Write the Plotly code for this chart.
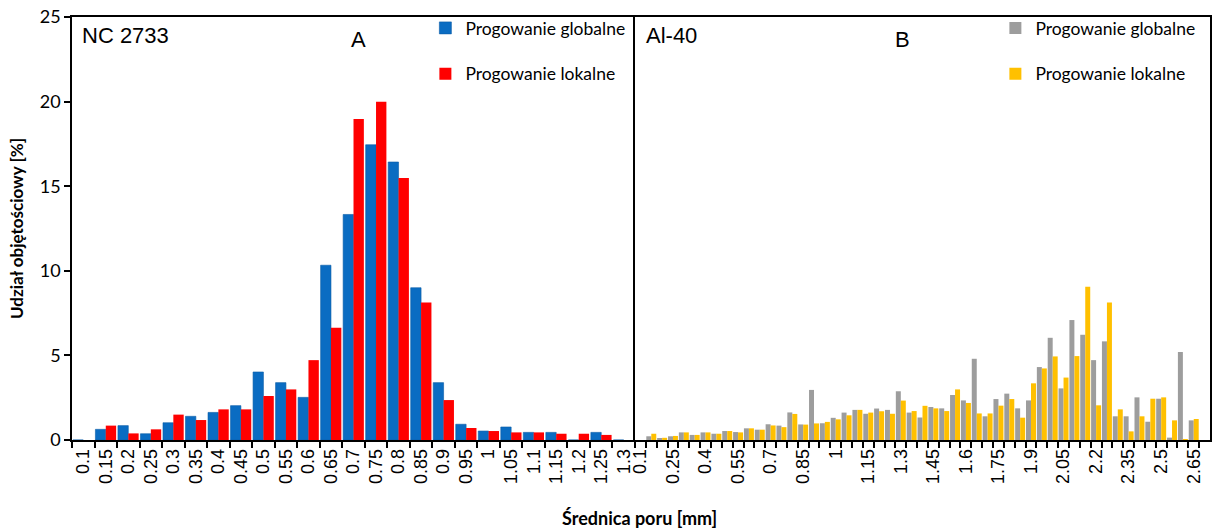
import plotly.graph_objects as go

# Pore diameter classes [mm]
diam_a = ["0.1", "0.15", "0.2", "0.25", "0.3", "0.35", "0.4", "0.45", "0.5", "0.55",
          "0.6", "0.65", "0.7", "0.75", "0.8", "0.85", "0.9", "0.95", "1", "1.05",
          "1.1", "1.15", "1.2", "1.25", "1.3"]
diam_b = ["0.1", "0.15", "0.2", "0.25", "0.3", "0.35", "0.4", "0.45", "0.5", "0.55",
          "0.6", "0.65", "0.7", "0.75", "0.8", "0.85", "0.9", "0.95", "1", "1.05",
          "1.1", "1.15", "1.2", "1.25", "1.3", "1.35", "1.4", "1.45", "1.5", "1.55",
          "1.6", "1.65", "1.7", "1.75", "1.8", "1.85", "1.9", "1.95", "2", "2.05",
          "2.1", "2.15", "2.2", "2.25", "2.3", "2.35", "2.4", "2.45", "2.5", "2.55",
          "2.6", "2.65", "2.7"]

# NC 2733 - volume fraction [%]
nc_global = [0, 0.63, 0.85, 0.37, 1.02, 1.40, 1.63, 2.03, 4.02, 3.39,
             2.52, 10.33, 13.33, 17.45, 16.43, 9.0, 3.39, 0.93, 0.53, 0.77,
             0.45, 0.45, 0, 0.45, 0]
nc_local = [0, 0.85, 0.39, 0.63, 1.50, 1.18, 1.81, 1.81, 2.60, 2.99,
            4.72, 6.63, 18.97, 19.99, 15.48, 8.13, 2.36, 0.71, 0.53, 0.45,
            0.45, 0.37, 0.37, 0.30, 0]

# Al-40 - volume fraction [%]
al_global = [0, 0.22, 0.12, 0.22, 0.45, 0.30, 0.45, 0.37, 0.53, 0.47,
             0.69, 0.61, 0.93, 0.85, 1.63, 0.92, 2.96, 0.99, 1.31, 1.62,
             1.78, 1.55, 1.86, 1.78, 2.88, 1.62, 1.33, 1.95, 1.87, 2.66,
             2.34, 4.80, 1.40, 2.42, 2.74, 1.87, 2.34, 4.31, 6.04, 3.05,
             7.09, 6.22, 4.72, 5.83, 1.40, 1.40, 2.52, 1.08, 2.44, 0.14,
             5.20, 1.16, 0]
al_local = [0, 0.37, 0.13, 0.24, 0.45, 0.30, 0.45, 0.37, 0.53, 0.45,
            0.69, 0.61, 0.86, 0.76, 1.54, 0.91, 0.98, 1.07, 1.22, 1.46,
            1.78, 1.62, 1.70, 1.55, 2.33, 1.71, 2.02, 1.87, 1.71, 2.99,
            2.19, 1.57, 1.57, 2.03, 2.42, 1.32, 3.35, 4.23, 4.94, 3.69,
            4.96, 9.06, 2.05, 8.13, 1.81, 0.51, 1.40, 2.44, 2.52, 1.16,
            0.02, 1.24, 0]

series_names = ["Progowanie globalne", "Progowanie lokalne"]
y_ticks = [0, 5, 10, 15, 20, 25]

# every third class is labelled on the Al-40 axis
b_labels = [d if i % 3 == 0 else "" for i, d in enumerate(diam_b)]

W, H = 1214, 531
ML, MR, MT, MB = 72, 2, 17, 91
split_px = 636
plot_w = W - ML - MR
plot_h = H - MT - MB
split = (split_px - ML) / plot_w

BLUE, RED, GREY, GOLD = "#0A6CC2", "#FF0000", "#9D9D9D", "#FFC000"
TICK_FONT = dict(family="Liberation Sans, Arial", size=18, color="black")
CAL_FONT = "Lato, Carlito, Calibri"


def px_x(px):
    return (px - ML) / plot_w


def px_y(px):
    return (H - MB - px) / plot_h


fig = go.Figure()
fig.add_trace(go.Bar(x=diam_a, y=nc_global, name=series_names[0], marker_color=BLUE,
                     marker_line=dict(color="#0A5CA6", width=0.6),
                     xaxis="x", yaxis="y", legend="legend", legendgroup="a1"))
fig.add_trace(go.Bar(x=diam_a, y=nc_local, name=series_names[1], marker_color=RED,
                     marker_line_width=0,
                     xaxis="x", yaxis="y", legend="legend", legendgroup="a2"))
fig.add_trace(go.Bar(x=diam_b, y=al_global, name=series_names[0], marker_color=GREY,
                     marker_line_width=0,
                     xaxis="x2", yaxis="y2", legend="legend2", legendgroup="b1"))
fig.add_trace(go.Bar(x=diam_b, y=al_local, name=series_names[1], marker_color=GOLD,
                     marker_line_width=0,
                     xaxis="x2", yaxis="y2", legend="legend2", legendgroup="b2"))

line_style = dict(showline=True, linecolor="black", linewidth=1.5,
                  showgrid=False, zeroline=False)

xa_common = dict(type="category", tickson="boundaries", ticks="outside", ticklen=6,
                 tickwidth=1.5, tickcolor="black", tickangle=-90, tickfont=TICK_FONT,
                 tickmode="array", mirror=True, **line_style)

legend_common = dict(font=dict(family=CAL_FONT, size=17.5, color="black"),
                     bgcolor="rgba(0,0,0,0)", tracegroupgap=20, itemwidth=30,
                     xanchor="left", yanchor="top", traceorder="grouped")

label_font = dict(family="Liberation Sans, Arial", size=22, color="black")

fig.update_layout(
    width=W, height=H,
    margin=dict(l=ML, r=MR, t=MT, b=MB),
    paper_bgcolor="white", plot_bgcolor="white",
    barmode="group", bargap=0.08, bargroupgap=0,
    xaxis=dict(domain=[0, split], categoryorder="array", categoryarray=diam_a,
               tickvals=diam_a, ticktext=diam_a,
               range=[-0.5, len(diam_a) - 0.5], anchor="y", **xa_common),
    xaxis2=dict(domain=[split, 1], categoryorder="array", categoryarray=diam_b,
                tickvals=diam_b, ticktext=b_labels,
                range=[-0.5, len(diam_b) - 0.5], anchor="y2", **xa_common),
    yaxis=dict(range=[0, 25], tickvals=y_ticks, ticks="outside", ticklen=6, tickwidth=1.5,
               tickcolor="black", anchor="x", mirror=False,
               tickfont=dict(family=CAL_FONT, size=18, color="black"),
               title=dict(text="<b>Udział objętościowy [%]</b>", standoff=12,
                          font=dict(family=CAL_FONT, size=17, color="black")),
               **line_style),
    yaxis2=dict(range=[0, 25], anchor="x2", showticklabels=False, ticks="",
                mirror=True, **line_style),
    legend=dict(x=px_x(426), y=px_y(10), **legend_common),
    legend2=dict(x=px_x(997), y=px_y(10), **legend_common),
    annotations=[
        dict(text="NC 2733", x=px_x(80), y=px_y(36), xanchor="left"),
        dict(text="A", x=px_x(359), y=px_y(40), xanchor="center"),
        dict(text="Al-40", x=px_x(645), y=px_y(36), xanchor="left"),
        dict(text="B", x=px_x(904), y=px_y(40), xanchor="center"),
    ],
)
fig.update_annotations(xref="paper", yref="paper", yanchor="middle", showarrow=False,
                       font=label_font)
fig.add_annotation(text="<b>Średnica poru [mm]</b>", x=px_x(640), y=px_y(518),
                   xref="paper", yref="paper", xanchor="center", yanchor="middle",
                   showarrow=False, font=dict(family=CAL_FONT, size=18, color="black"))

fig.write_html("out.html")
